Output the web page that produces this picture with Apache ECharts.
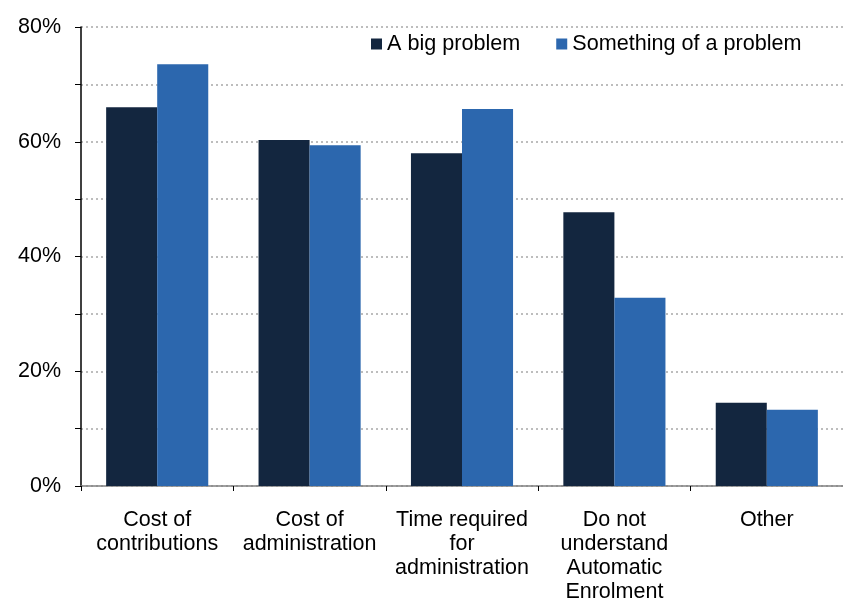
<!DOCTYPE html>
<html><head><meta charset="utf-8">
<script src="https://cdn.jsdelivr.net/npm/echarts@6/dist/echarts.min.js"></script>
<style>html,body{margin:0;padding:0;background:#fff}#c{width:843px;height:605px}</style>
</head><body><div id="c"></div>
<script>
var categories = ['Cost of\ncontributions', 'Cost of\nadministration', 'Time required\nfor\nadministration', 'Do not\nunderstand\nAutomatic\nEnrolment', 'Other'];
var bigProblem = [66.0, 60.3, 58.0, 47.7, 14.5];
var somethingProblem = [73.5, 59.4, 65.7, 32.8, 13.3];
var seriesNames = ['A big problem', 'Something of a problem'];
var font = 'Liberation Sans, Arial, sans-serif';
var chart = echarts.init(document.getElementById('c'), null, {renderer: 'canvas'});
chart.setOption({
  animation: false,
  textStyle: {fontFamily: font},
  grid: {left: 81, right: 0, top: 27, bottom: 119, containLabel: false},
  legend: {
    left: 366, top: 28, icon: 'rect', itemWidth: 11, itemHeight: 11, itemGap: 36,
    textStyle: {fontFamily: font, fontSize: 21.6, color: '#000'},
    data: seriesNames
  },
  xAxis: {
    type: 'category', data: categories,
    axisLine: {lineStyle: {color: '#808080', width: 1.5}},
    axisTick: {show: true, length: 5, lineStyle: {color: '#000'}},
    axisLabel: {fontFamily: font, fontSize: 21.5, color: '#000', lineHeight: 24, margin: 22, interval: 0}
  },
  yAxis: {
    type: 'value', min: 0, max: 80, interval: 10,
    axisLine: {show: true, lineStyle: {color: '#000', width: 1.5}},
    axisTick: {show: true, length: 6, lineStyle: {color: '#000'}},
    axisLabel: {fontFamily: font, fontSize: 21.5, color: '#000', margin: 20,
      formatter: function (v) { return v % 20 === 0 ? v + '%' : ''; }},
    splitLine: {show: true, lineStyle: {color: '#bdbdbd', type: [2, 3], width: 2}}
  },
  series: [
    {name: seriesNames[0], type: 'bar', data: bigProblem, barGap: '0%', barCategoryGap: '33%',
     itemStyle: {color: '#13263F'}},
    {name: seriesNames[1], type: 'bar', data: somethingProblem, barGap: '0%', barCategoryGap: '33%',
     itemStyle: {color: '#2C67AE'}}
  ]
});
</script></body></html>
